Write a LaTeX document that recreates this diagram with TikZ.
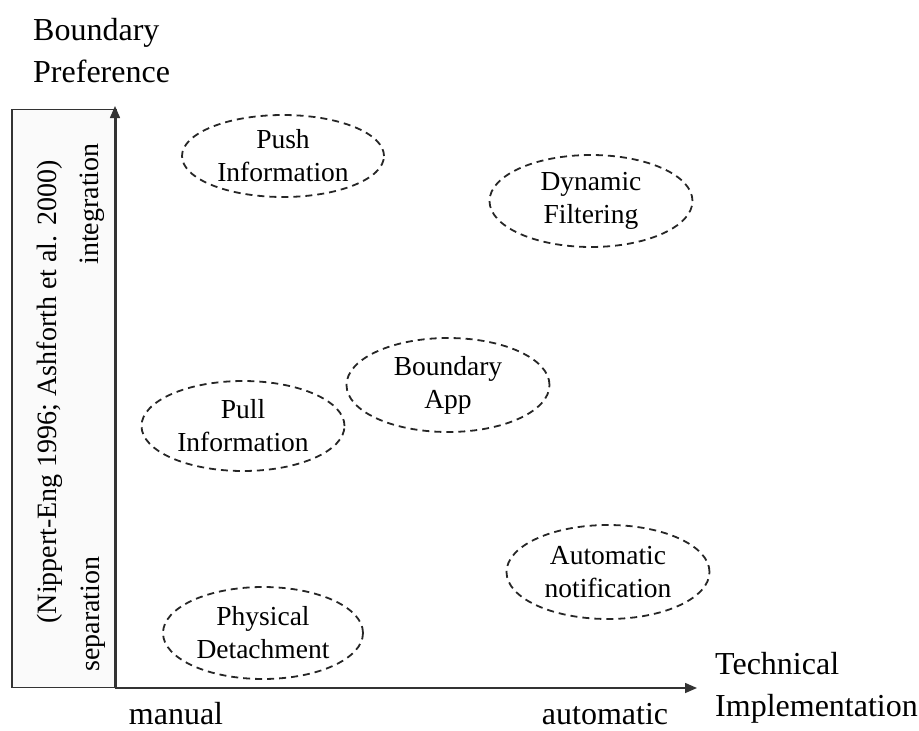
\documentclass[tikz,border=0pt]{standalone}
\usepackage{fontspec}
\setmainfont{Liberation Serif}
\usetikzlibrary{shapes.geometric,arrows.meta}
\begin{document}
\begin{tikzpicture}[x=1pt,y=-1pt,
  axisline/.style={line width=1.5pt,draw=black!80,-{Triangle[length=12pt,width=10pt]}},
  blob/.style={ellipse,draw=black!85,dashed,dash pattern=on 7pt off 5pt,line width=1.8pt,
    inner sep=0pt,align=center,font=\fontsize{27.5}{33}\selectfont},
  lbl/.style={font=\fontsize{32}{42}\selectfont,inner sep=0pt},
  rlbl/.style={font=\fontsize{28}{34}\selectfont,inner sep=0pt,rotate=90}]
\useasboundingbox (0,0) rectangle (919,731);
\coordinate (o) at (115,688);
\coordinate (ytip) at (115,106);
\coordinate (xtip) at (697,688);
\node[draw=black!80,line width=1.5pt,fill=black!2,minimum width=104pt,minimum height=578pt,inner sep=0pt,anchor=south west] (box) at (11,688) {};
\draw[axisline] (o) -- (ytip);
\draw[axisline] (o) -- (xtip);
\node[rlbl] (integ) at (92,204) {integration};
\node[rlbl] (sep) at (93,614) {separation};
\node[rlbl] (cite) at (50,392) {(Nippert-Eng 1996; Ashforth et al. 2000)};
\node[lbl,align=left,anchor=west] (yl) at (33,51) {Boundary\\Preference};
\node[lbl,align=left,anchor=west] (xl) at (715,688) {Technical\\Implementation};
\node[lbl] (man) at (176,714) {manual};
\node[lbl] (aut) at (605,714) {automatic};
\node[blob,minimum width=202pt,minimum height=82pt] (push) at (283,156) {Push\\Information};
\node[blob,minimum width=203pt,minimum height=92pt] (dyn) at (591,201) {Dynamic\\Filtering};
\node[blob,minimum width=203pt,minimum height=94pt] (bapp) at (448,385) {Boundary\\App};
\node[blob,minimum width=203pt,minimum height=90pt] (pull) at (243,426) {Pull\\Information};
\node[blob,minimum width=203pt,minimum height=94pt] (auto) at (608,572) {Automatic\\notification};
\node[blob,minimum width=200pt,minimum height=92pt] (phys) at (263,633) {Physical\\Detachment};
\end{tikzpicture}
\end{document}
